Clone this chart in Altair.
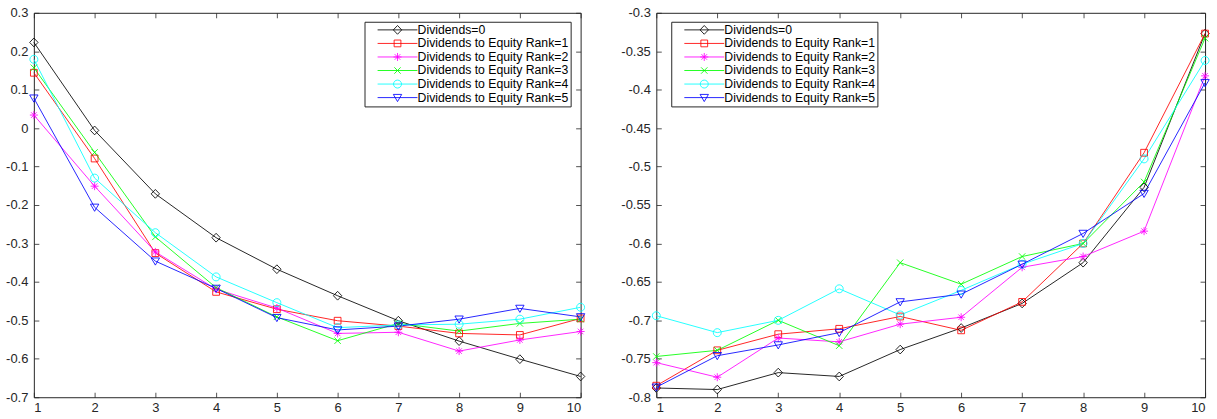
import altair as alt
import pandas as pd

# ---------------- data ----------------
x_vals = [1, 2, 3, 4, 5, 6, 7, 8, 9, 10]
series_names = [
    "Dividends=0",
    "Dividends to Equity Rank=1",
    "Dividends to Equity Rank=2",
    "Dividends to Equity Rank=3",
    "Dividends to Equity Rank=4",
    "Dividends to Equity Rank=5",
]

left_s0 = [0.223, -0.006, -0.171, -0.285, -0.367, -0.436, -0.501, -0.554, -0.601, -0.646]
left_s1 = [0.144, -0.079, -0.325, -0.426, -0.471, -0.501, -0.515, -0.534, -0.538, -0.495]
left_s2 = [0.034, -0.151, -0.322, -0.419, -0.468, -0.534, -0.531, -0.580, -0.551, -0.529]
left_s3 = [0.157, -0.063, -0.283, -0.415, -0.491, -0.553, -0.508, -0.528, -0.508, -0.497]
left_s4 = [0.179, -0.130, -0.272, -0.387, -0.454, -0.519, -0.512, -0.510, -0.497, -0.466]
left_s5 = [0.078, -0.206, -0.346, -0.417, -0.493, -0.525, -0.515, -0.497, -0.469, -0.491]

right_s0 = [-0.788, -0.790, -0.768, -0.773, -0.738, -0.710, -0.678, -0.625, -0.527, -0.327]
right_s1 = [-0.785, -0.739, -0.718, -0.711, -0.695, -0.713, -0.676, -0.600, -0.482, -0.327]
right_s2 = [-0.755, -0.774, -0.723, -0.728, -0.705, -0.696, -0.631, -0.617, -0.584, -0.382]
right_s3 = [-0.747, -0.739, -0.700, -0.733, -0.625, -0.653, -0.617, -0.600, -0.520, -0.333]
right_s4 = [-0.694, -0.716, -0.700, -0.659, -0.693, -0.661, -0.627, -0.600, -0.490, -0.362]
right_s5 = [-0.787, -0.746, -0.732, -0.716, -0.676, -0.666, -0.627, -0.587, -0.535, -0.391]

left_ticks = [-0.7, -0.6, -0.5, -0.4, -0.3, -0.2, -0.1, 0.0, 0.1, 0.2, 0.3]
right_ticks = [-0.8, -0.75, -0.7, -0.65, -0.6, -0.55, -0.5, -0.45, -0.4, -0.35, -0.3]

# ---------------- styles ----------------
colors = ["#000000", "#ff0000", "#ff00ff", "#00ff00", "#00ffff", "#0000ff"]
marker_paths = [
    "M0,-1.1L1.05,0L0,1.1L-1.05,0Z",                                  # diamond
    "M-0.85,-0.85L0.85,-0.85L0.85,0.85L-0.85,0.85Z",                   # square
    "M-1,0L1,0M0,-1L0,1M-0.7,-0.7L0.7,0.7M-0.7,0.7L0.7,-0.7",          # asterisk
    "M-0.8,-0.8L0.8,0.8M-0.8,0.8L0.8,-0.8",                            # x
    "M1,0A1,1 0 1 1 -1,0A1,1 0 1 1 1,0Z",                              # circle
    "M-1.05,-0.8L1.05,-0.8L0,1.0Z",                                    # triangle down
]
legend_paths = ["M-5,0L5,0" + p for p in marker_paths]

FONT = "Liberation Sans"
AX = "#262626"
LABEL_EXPR = "replace(format(datum.value, '.2~f'), '\u2212', '-')"


def make_df(series_lists):
    rows = []
    for name, ys in zip(series_names, series_lists):
        for xv, yv in zip(x_vals, ys):
            rows.append({"x": xv, "y": yv, "series": name})
    return pd.DataFrame(rows)


def panel(df, ydomain, yticks, lx, ly, width):
    base = alt.Chart(df)
    xs = alt.Scale(domain=[1, 10], nice=False, zero=False)
    ys = alt.Scale(domain=ydomain, nice=False, zero=False)
    cscale = alt.Scale(domain=series_names, range=colors)

    lines = base.mark_line(strokeWidth=0.85).encode(
        x=alt.X("x:Q", scale=xs, axis=alt.Axis(orient="bottom", values=x_vals, offset=-5,
                                               domain=False, tickSize=5, labelPadding=4,
                                               title=None, grid=False)),
        y=alt.Y("y:Q", scale=ys, axis=alt.Axis(orient="left", values=yticks, offset=-5,
                                               domain=False, tickSize=5, labelPadding=6,
                                               labelExpr=LABEL_EXPR, title=None, grid=False)),
        color=alt.Color("series:N", scale=cscale, legend=None),
    )
    points = base.mark_point(filled=False, size=64, strokeWidth=0.85, opacity=1).encode(
        x=alt.X("x:Q", scale=xs, axis=alt.Axis(orient="top", values=x_vals, offset=-5,
                                               domain=False, tickSize=5, labels=False,
                                               title=None, grid=False)),
        y=alt.Y("y:Q", scale=ys, axis=alt.Axis(orient="right", values=yticks, offset=-5,
                                               domain=False, tickSize=5, labels=False,
                                               title=None, grid=False)),
        color=alt.Color("series:N", scale=cscale, legend=None),
        shape=alt.Shape("series:N", scale=alt.Scale(domain=series_names, range=marker_paths),
                        legend=None),
    )
    leg = alt.Legend(
        title=None, orient="none", legendX=lx, legendY=ly,
        labelFont=FONT, labelFontSize=12.3, labelColor="#000000", labelLimit=400,
        symbolSize=64, symbolStrokeWidth=0.85, symbolOffset=25, labelOffset=14,
        padding=2, rowPadding=0.6, strokeColor=AX, fillColor="#ffffff", cornerRadius=0,
    )
    legend_layer = base.transform_filter("false").mark_point(
        filled=False, size=64, strokeWidth=0.85, opacity=1
    ).encode(
        color=alt.Color("series:N", scale=cscale, legend=leg),
        shape=alt.Shape("series:N", scale=alt.Scale(domain=series_names, range=legend_paths),
                        legend=leg),
    )
    return (
        alt.layer(lines, points, legend_layer)
        .resolve_scale(color="independent", shape="independent")
        .resolve_axis(x="independent", y="independent")
        .properties(width=width, height=386)
    )


left_df = make_df([left_s0, left_s1, left_s2, left_s3, left_s4, left_s5])
right_df = make_df([right_s0, right_s1, right_s2, right_s3, right_s4, right_s5])

left = panel(left_df, [-0.7, 0.3], left_ticks, 332, 9, 549)
right = panel(right_df, [-0.8, -0.3], right_ticks, 15, 9, 551)

chart = (
    alt.hconcat(left, right, spacing=32)
    .properties(padding={"left": 5, "top": 5, "right": 5, "bottom": 0}, background="#ffffff")
    .configure_view(stroke=AX, strokeWidth=1)
    .configure_axis(labelFont=FONT, labelFontSize=13, labelColor=AX, tickColor=AX,
                    tickWidth=0.8)
)

chart.save("out.html", embed_options={"renderer": "svg", "actions": False})
